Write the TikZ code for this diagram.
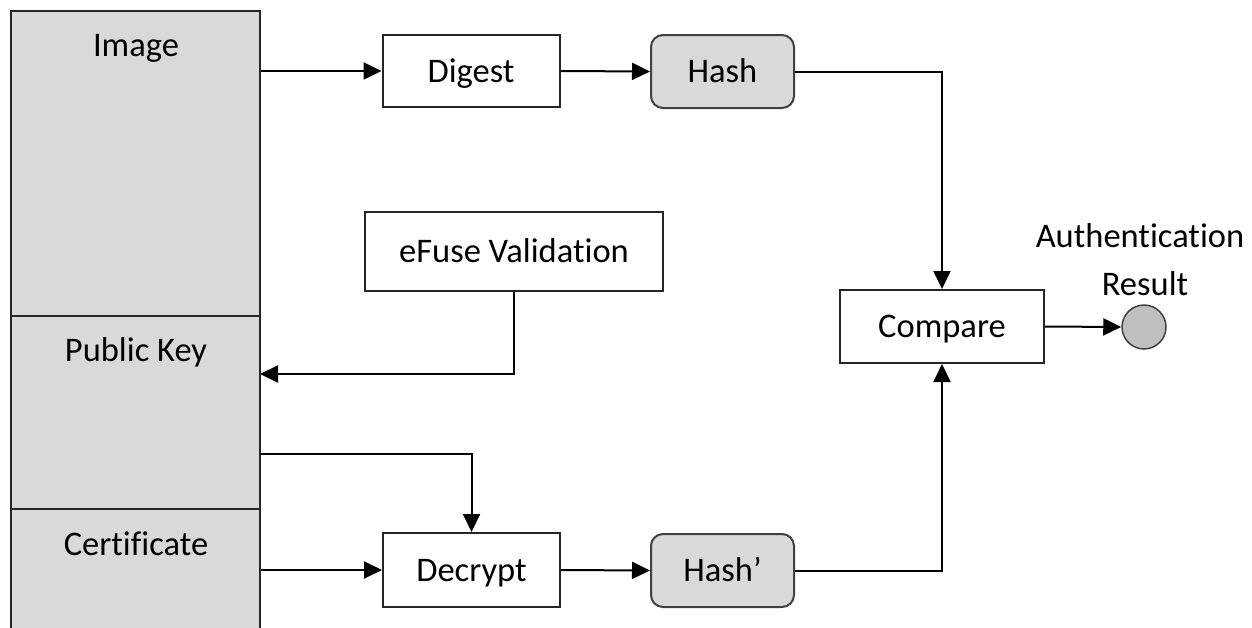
\documentclass[tikz,border=0pt]{standalone}
\usepackage{fontspec}
\setmainfont{Carlito}[Ligatures=NoCommon]
\usetikzlibrary{arrows.meta}

\definecolor{boxgray}{HTML}{D9D9D9}
\definecolor{dotgray}{HTML}{BFBFBF}
\definecolor{edgegray}{HTML}{404040}

\tikzset{every picture/.style={line width=2pt}}
\tikzset{
  seg/.style={draw=black!85, fill=boxgray, inner sep=0pt},
  plain/.style={draw=black!85, fill=white, inner sep=0pt, text height=22pt, text depth=0pt},
  hashbox/.style={draw=edgegray, fill=boxgray, rounded corners=12pt, inner sep=0pt,
    minimum width=143pt, minimum height=73pt, text height=22pt, text depth=0pt},
  lbl/.style={anchor=base, inner sep=0pt},
  arr/.style={-{Triangle[length=18pt,width=17pt]}}
}

\begin{document}
\begin{tikzpicture}[x=1pt,y=1pt,yscale=-1,xscale=1,font=\fontsize{34.5}{41}\selectfont]
\clip (0,0) rectangle (1252,627);

% left column
\node [seg, minimum width=249pt, minimum height=305pt] (img) at (135.5,163.5) {};
\node [seg, minimum width=249pt, minimum height=193pt] (pub) at (135.5,412.5) {};
\node [seg, minimum width=249pt, minimum height=131pt] (cert) at (135.5,574.5) {};
\node [lbl] (imgtxt) at (136,56) {Image};
\node [lbl] (pubtxt) at (136,361) {Public Key};
\node [lbl] (certtxt) at (136,555) {Certificate};

% boxes
\node [plain, minimum width=177pt, minimum height=72pt] (dig) at (471,71) {Digest};
\node [hashbox] (hash) at (722.5,71.5) {Hash};
\node [plain, minimum width=298pt, minimum height=79pt] (efuse) at (514,251.5) {eFuse Validation};
\node [plain, minimum width=177pt, minimum height=74pt] (dec) at (471.5,570) {Decrypt};
\node [hashbox] (hash2) at (722.5,570.5) {Hash’};
\node [plain, minimum width=204pt, minimum height=73pt] (cmp) at (942,326.5) {Compare};
\node [circle, draw=edgegray, fill=dotgray, line width=1.5pt, minimum size=44pt, inner sep=0pt] (res) at (1144,327) {};
\node [lbl] (restxt1) at (1140,247) {Authentication};
\node [lbl] (restxt2) at (1145,295) {Result};

\coordinate (pkin) at (260,374);
\coordinate (pkout) at (260,454);

% connectors
\draw [arr] (img.east |- dig.west) -- (dig.west);
\draw [arr] (dig.east) -- (hash.west);
\draw [arr] (hash.east) -| (cmp.north);
\draw [arr] (efuse.south) |- (pkin);
\draw [arr] (pkout) -| (dec.north);
\draw [arr] (cert.east |- dec.west) -- (dec.west);
\draw [arr] (dec.east) -- (hash2.west);
\draw [arr] (hash2.east) -| (cmp.south);
\draw [arr] (cmp.east) -- (res.west);

\end{tikzpicture}
\end{document}
